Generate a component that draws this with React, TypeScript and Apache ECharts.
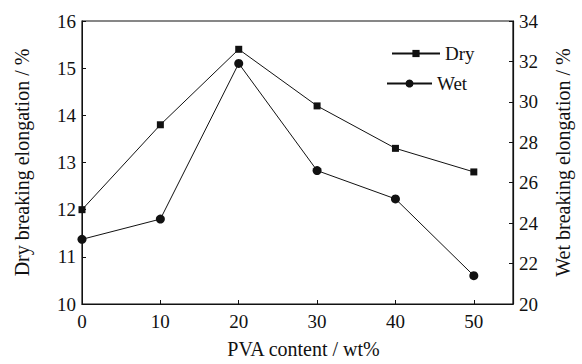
import React, { useEffect, useRef } from "react";
import * as echarts from "echarts";

const pvaContent = [0, 10, 20, 30, 40, 50];
const dryElongation = [12.0, 13.8, 15.4, 14.2, 13.3, 12.8];
const wetElongation = [23.2, 24.2, 31.9, 26.6, 25.2, 21.4];

const FONT = "Liberation Serif";
const INK = "#111";

export default function App() {
  const ref = useRef<HTMLDivElement>(null);
  useEffect(() => {
    if (!ref.current) return;
    const chart = echarts.init(ref.current, null, { renderer: "svg" });
    const txt = { fontFamily: FONT, fontSize: 19, color: INK };
    const title = { fontFamily: FONT, fontSize: 20, color: INK };
    chart.setOption({
      animation: false,
      backgroundColor: "#fff",
      grid: {
        left: 82,
        right: 69,
        top: 21,
        bottom: 60,
        outerBoundsMode: "none",
        containLabel: false,
        show: true,
        borderColor: INK,
        borderWidth: 1.2,
      },
      legend: [
        {
          data: ["Dry"],
          left: 386,
          top: 39,
          itemWidth: 48,
          itemHeight: 9,
          textStyle: { ...txt, padding: 0 },
        },
        {
          data: ["Wet"],
          left: 381,
          top: 69,
          itemWidth: 45,
          itemHeight: 10,
          textStyle: { ...txt, padding: 0 },
        },
      ],
      xAxis: {
        type: "value",
        min: 0,
        max: 55,
        interval: 10,
        name: "PVA content / wt%",
        nameLocation: "middle",
        nameGap: 35,
        nameTextStyle: { ...title, padding: [0, 0, 0, 12] },
        axisLine: { lineStyle: { color: INK, width: 1.2 } },
        axisTick: { inside: true, length: 4, lineStyle: { color: INK } },
        axisLabel: { ...txt, margin: 8, showMaxLabel: false },
        splitLine: { show: false },
      },
      yAxis: [
        {
          type: "value",
          min: 10,
          max: 16,
          interval: 1,
          position: "left",
          name: "Dry breaking elongation / %",
          nameLocation: "middle",
          nameRotate: 90,
          nameGap: 50,
          nameTextStyle: { ...title },
          axisLine: { show: true, lineStyle: { color: INK, width: 1 } },
          axisTick: { show: true, inside: true, length: 4, lineStyle: { color: INK } },
          axisLabel: { ...txt, margin: 6 },
          splitLine: { show: false },
        },
        {
          type: "value",
          min: 20,
          max: 34,
          interval: 2,
          position: "right",
          name: "Wet breaking elongation / %",
          nameLocation: "middle",
          nameRotate: 90,
          nameGap: 40,
          nameTextStyle: { ...title },
          axisLine: { show: true, lineStyle: { color: INK, width: 1.2 } },
          axisTick: { show: true, inside: true, length: 4, lineStyle: { color: INK } },
          axisLabel: { ...txt, margin: 6 },
          splitLine: { show: false },
        },
      ],
      series: [
        {
          name: "Dry",
          type: "line",
          yAxisIndex: 0,
          data: pvaContent.map((x, i) => [x, dryElongation[i]]),
          symbol: "rect",
          symbolSize: 7,
          lineStyle: { color: INK, width: 1 },
          itemStyle: { color: INK },
        },
        {
          name: "Wet",
          type: "line",
          yAxisIndex: 1,
          data: pvaContent.map((x, i) => [x, wetElongation[i]]),
          symbol: "circle",
          symbolSize: 9,
          lineStyle: { color: INK, width: 1 },
          itemStyle: { color: INK },
        },
      ],
    });
    return () => chart.dispose();
  }, []);
  return <div ref={ref} style={{ width: 582, height: 364, position: "absolute", left: 0, top: 0 }} />;
}
